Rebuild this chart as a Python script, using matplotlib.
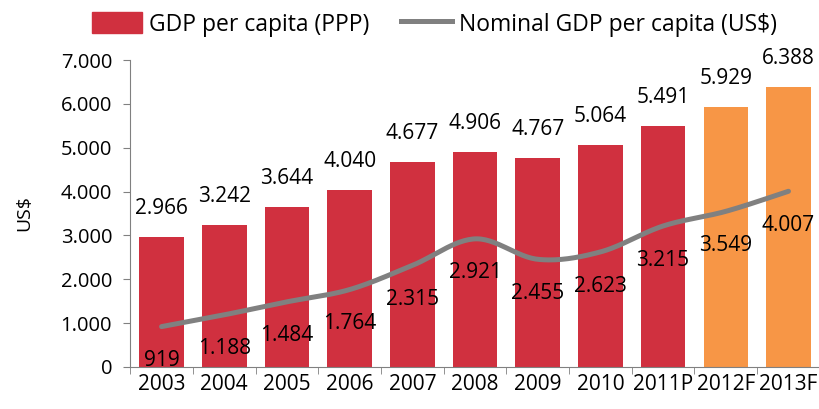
import matplotlib
matplotlib.use('Agg')
import matplotlib.pyplot as plt
import numpy as np
from matplotlib.patches import Patch
from matplotlib.lines import Line2D

plt.rcParams['font.family'] = ['Open Sans', 'DejaVu Sans']

years = ['2003', '2004', '2005', '2006', '2007', '2008', '2009', '2010', '2011P', '2012F', '2013F']
gdp_ppp = [2966, 3242, 3644, 4040, 4677, 4906, 4767, 5064, 5491, 5929, 6388]
gdp_nominal = [919, 1188, 1484, 1764, 2315, 2921, 2455, 2623, 3215, 3549, 4007]
forecast = [False] * 9 + [True] * 2

red = '#D0303F'
orange = '#F79646'
gray = '#808080'


def fmt(v):
    return '{:,}'.format(v).replace(',', '.')


def smooth(x, y, n=30):
    # bezier curve through the points (like excel smoothed line)
    px = np.concatenate([[x[0]], x, [x[-1]]]).astype(float)
    py = np.concatenate([[y[0]], y, [y[-1]]]).astype(float)
    t = np.linspace(0, 1, n)
    xs, ys = [], []
    for i in range(1, len(px) - 2):
        for p, out in ((px, xs), (py, ys)):
            b0 = p[i]
            b1 = p[i] + (p[i + 1] - p[i - 1]) / 6
            b2 = p[i + 1] - (p[i + 2] - p[i]) / 6
            b3 = p[i + 1]
            out.append((1 - t) ** 3 * b0 + 3 * (1 - t) ** 2 * t * b1 + 3 * (1 - t) * t ** 2 * b2 + t ** 3 * b3)
    return np.concatenate(xs), np.concatenate(ys)


fig = plt.figure(figsize=(8.19, 4.09), dpi=100)
ax = fig.add_axes([0.159, 0.103, 0.842, 0.750])

x = np.arange(len(years))
colors = [orange if f else red for f in forecast]
ax.bar(x, gdp_ppp, width=0.71, color=colors, zorder=2)

sx, sy = smooth(x, gdp_nominal)
ax.plot(sx, sy, color=gray, lw=3.6, solid_capstyle='round', zorder=3)

for i in range(len(years)):
    ax.annotate(fmt(gdp_ppp[i]), (x[i], gdp_ppp[i]), xytext=(0, 13), textcoords='offset points',
                ha='center', va='bottom', fontsize=15)
    ax.annotate(fmt(gdp_nominal[i]), (x[i], gdp_nominal[i]), xytext=(0, -17), textcoords='offset points',
                ha='center', va='top', fontsize=15)

ax.set_xlim(-0.5, len(years) - 0.5)
ax.set_ylim(0, 7000)
ax.set_yticks(range(0, 7001, 1000))
ax.set_yticklabels([fmt(v) for v in range(0, 7001, 1000)], fontsize=14.5)
ax.set_xticks(x)
ax.set_xticklabels(years, fontsize=15)
ax.set_xticks(np.arange(-0.5, len(years), 1), minor=True)
ax.tick_params(axis='x', which='major', length=0, pad=5)
ax.tick_params(axis='x', which='minor', length=5, color=gray)
ax.tick_params(axis='y', length=5, color=gray, pad=8)
ax.set_ylabel('US$', fontsize=14, labelpad=20)

for s in ['top', 'right']:
    ax.spines[s].set_visible(False)
ax.spines['left'].set_color(gray)
ax.spines['bottom'].set_color(gray)

handles = [Patch(color=red, label='GDP per capita (PPP)'),
           Line2D([0], [0], color=gray, lw=3.6, label='Nominal GDP per capita (US$)')]
fig.legend(handles=handles, loc='upper center', bbox_to_anchor=(0.53, 1.02), ncol=2, frameon=False,
           fontsize=16.5, handlelength=2.2, handleheight=1.0, columnspacing=1.4, handletextpad=0.3)

fig.savefig('out.png', dpi=100)
